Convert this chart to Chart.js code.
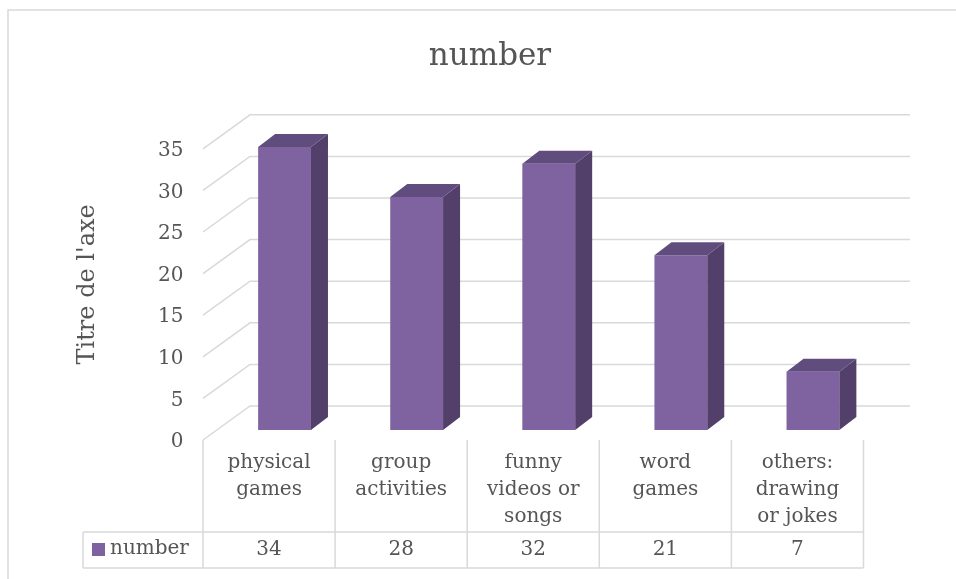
<!DOCTYPE html>
<html>
<head>
<meta charset="utf-8">
<script src="https://cdn.jsdelivr.net/npm/chart.js@4"></script>
<style>
  html,body{margin:0;padding:0;background:#fff;}
  canvas{display:block;}
</style>
</head>
<body>
<canvas id="chart" width="956" height="579"></canvas>
<script>
const categories=[['physical','games'],['group','activities'],['funny','videos or','songs'],['word','games'],['others:','drawing','or jokes']];
const values=[34,28,32,21,7];
const seriesName='number';
const yMin=0,yMax=35,yStep=5;

const frontColor='#7f63a1',sideColor='#52406a',topColor='#614c7e';
const gridColor='#d9d9d9',textColor='#555555';
const depth={dx:17,dy:-13};      // bar extrusion
const floorFront={x:203,dy:10};  // front edge of the grid floor, relative to bar face
const floorBack={x:250,dy:-24,right:910};
const tableShift=-15.5;

Chart.defaults.font.family="'DejaVu Serif', serif";
Chart.defaults.color=textColor;

const frame={
  id:'frame',
  beforeDraw(chart){
    const {ctx}=chart;
    ctx.save();
    ctx.strokeStyle=gridColor;ctx.lineWidth=1.5;
    ctx.beginPath();ctx.moveTo(8,579);ctx.lineTo(8,10);ctx.lineTo(956,10);ctx.stroke();
    ctx.restore();
  },
  beforeDatasetsDraw(chart){
    // back wall + diagonal floor lines
    const {ctx,scales:{y}}=chart;
    ctx.save();
    ctx.strokeStyle=gridColor;ctx.lineWidth=1.5;
    for(let v=yMin;v<=yMax;v+=yStep){
      const py=y.getPixelForValue(v);
      ctx.beginPath();
      ctx.moveTo(floorFront.x,py+floorFront.dy);
      ctx.lineTo(floorBack.x,py+floorBack.dy);
      ctx.lineTo(floorBack.right,py+floorBack.dy);
      ctx.stroke();
    }
    ctx.restore();
  },
  afterDatasetsDraw(chart){
    const {ctx}=chart;
    ctx.save();
    chart.getDatasetMeta(0).data.forEach(bar=>{
      const l=bar.x-bar.width/2,r=bar.x+bar.width/2,t=bar.y,b=bar.base;
      ctx.fillStyle=sideColor;
      ctx.beginPath();
      ctx.moveTo(r,t);ctx.lineTo(r+depth.dx,t+depth.dy);ctx.lineTo(r+depth.dx,b+depth.dy);ctx.lineTo(r,b);
      ctx.closePath();ctx.fill();
      ctx.fillStyle=topColor;
      ctx.beginPath();
      ctx.moveTo(l,t);ctx.lineTo(l+depth.dx,t+depth.dy);ctx.lineTo(r+depth.dx,t+depth.dy);ctx.lineTo(r,t);
      ctx.closePath();ctx.fill();
    });
    ctx.restore();
  },
  afterDraw(chart){
    // data table under the axis
    const {ctx,scales:{x,y}}=chart;
    const cw=x.getPixelForValue(1)-x.getPixelForValue(0);
    const top=y.getPixelForValue(0)+floorFront.dy,rowTop=532,rowBottom=568,tableLeft=83;
    const edges=[];
    for(let i=0;i<=categories.length;i++)edges.push(x.getPixelForValue(0)-cw/2+tableShift+i*cw);
    ctx.save();
    ctx.strokeStyle=gridColor;ctx.lineWidth=1.5;
    ctx.beginPath();
    edges.forEach(ex=>{ctx.moveTo(ex,top);ctx.lineTo(ex,rowBottom);});
    ctx.moveTo(tableLeft,rowTop);ctx.lineTo(edges[edges.length-1],rowTop);
    ctx.moveTo(tableLeft,rowBottom);ctx.lineTo(edges[edges.length-1],rowBottom);
    ctx.moveTo(tableLeft,rowTop);ctx.lineTo(tableLeft,rowBottom);
    ctx.stroke();
    ctx.font="20px 'DejaVu Serif'";
    ctx.fillStyle=textColor;ctx.textBaseline='middle';ctx.textAlign='center';
    values.forEach((v,i)=>ctx.fillText(String(v),x.getPixelForValue(i)+tableShift,550));
    ctx.fillStyle=frontColor;
    ctx.fillRect(92,543,13,13);
    ctx.fillStyle=textColor;ctx.textAlign='left';
    ctx.fillText(seriesName,110,549);
    ctx.restore();
  }
};

new Chart(document.getElementById('chart'),{
  type:'bar',
  data:{labels:categories,datasets:[{label:seriesName,data:values,backgroundColor:frontColor,borderWidth:0,barPercentage:0.4,categoryPercentage:1}]},
  options:{
    responsive:false,animation:false,
    layout:{padding:{top:10,left:101,right:77,bottom:0}},
    plugins:{
      legend:{display:false},tooltip:{enabled:false},
      title:{display:true,text:'number',color:textColor,font:{size:31,weight:'normal'},padding:{top:28,bottom:63.6}}
    },
    scales:{
      x:{
        grid:{display:false,drawTicks:false},border:{display:false},
        ticks:{autoSkip:false,maxRotation:0,minRotation:0,padding:19.5,labelOffset:tableShift,font:{size:20,lineHeight:1.35},color:textColor},
        afterFit(s){s.height=149;}
      },
      y:{
        min:yMin,max:yMax,
        grid:{display:false,drawTicks:false},border:{display:false},
        ticks:{stepSize:yStep,padding:35,labelOffset:12,font:{size:20},color:textColor},
        title:{display:true,text:"Titre de l'axe",color:textColor,font:{size:24},padding:{top:-27.4}},
        afterFit(s){s.width=117.5;}
      }
    }
  },
  plugins:[frame]
});
</script>
</body>
</html>
